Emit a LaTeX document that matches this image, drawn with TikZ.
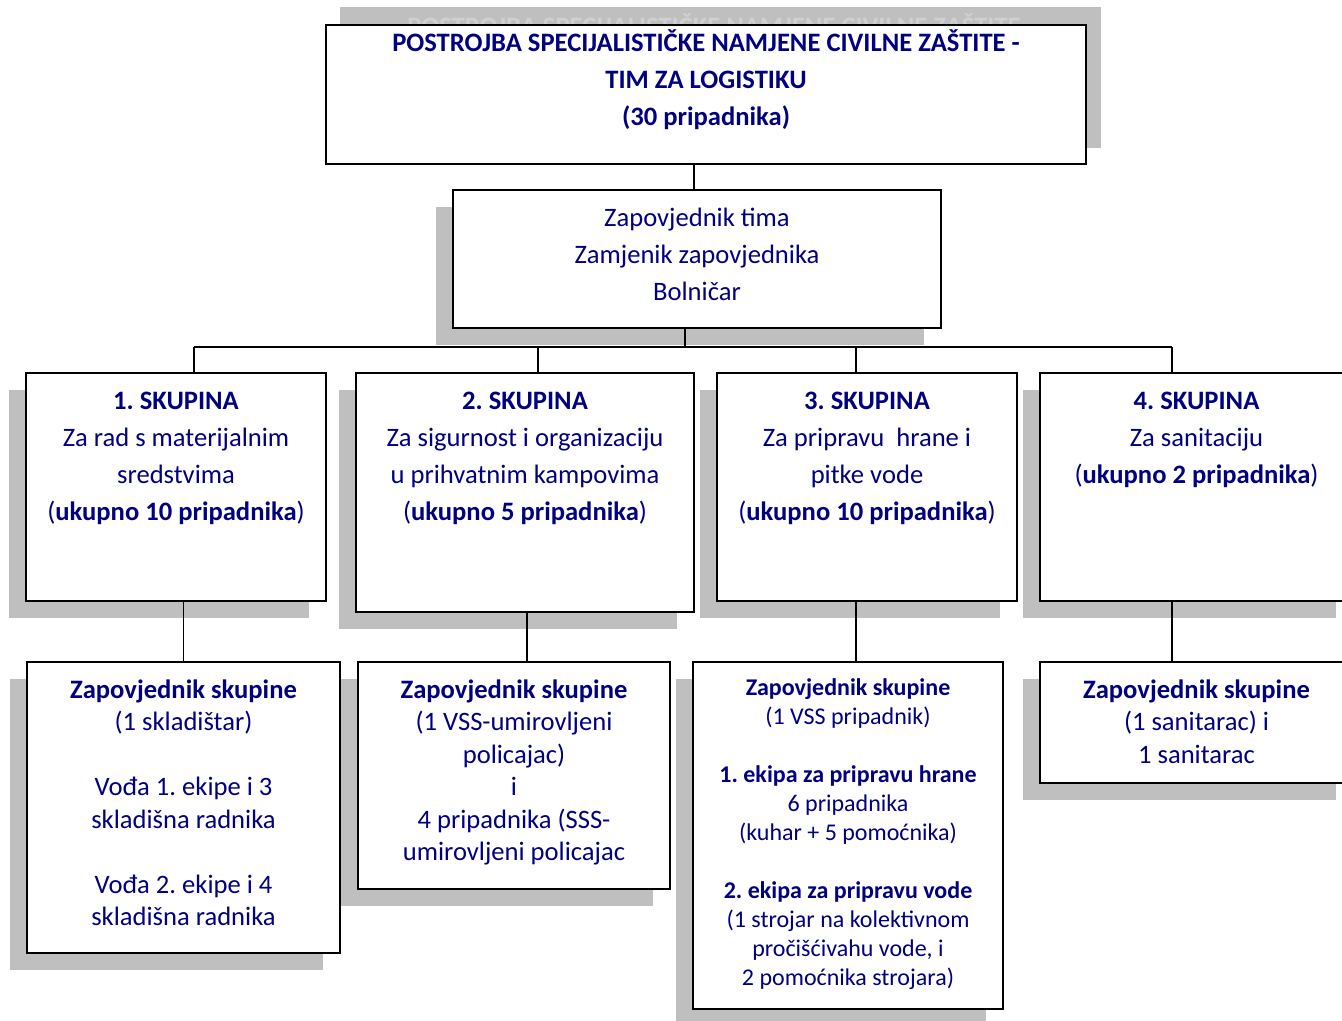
\documentclass[tikz,border=0pt]{standalone}
\usepackage{fontspec}
\setmainfont{Carlito}
\usepackage{tikz}
\usetikzlibrary{shadows}
\definecolor{navytext}{RGB}{0,0,128}
\definecolor{shadowgray}{RGB}{191,191,191}
\definecolor{ghostgray}{RGB}{208,208,208}
\frenchspacing
\newcommand{\boxbody}[4]{\parbox[c][#2][t]{#1}{\centering\vspace*{#3}\strut#4}}
\tikzset{unit/.style={draw, fill=white, line width=1pt, anchor=north west, inner sep=0pt, text=navytext}}
\tikzset{shadowed/.style={drop shadow={shadow xshift=-8.5pt, shadow yshift=-8.5pt, fill=shadowgray, opacity=1}}}
\tikzset{widetext/.style={font=\fontsize{13.3}{18.5}\selectfont}}
\tikzset{listtext/.style={font=\fontsize{13.3}{16.25}\selectfont}}
\tikzset{densetext/.style={font=\fontsize{12}{14.5}\selectfont}}
\tikzset{link/.style={draw, line width=0.9pt}}

\begin{document}
\begin{tikzpicture}[x=0.5pt, y=-0.5pt]
  \useasboundingbox (0,0) rectangle (1342,1021);

  % headline with its shadow and the faded first line
  \fill[shadowgray] (340,7) rectangle (1101,148);
  \node[text=ghostgray, font=\bfseries\fontsize{13.3}{18.5}\selectfont] at (721,25) (ghostline) {POSTROJBA SPECIJALISTIČKE NAMJENE CIVILNE ZAŠTITE -};
  \node[unit, widetext] at (325,24) (title) {\boxbody{380pt}{69.5pt}{0.5pt}{\bfseries POSTROJBA SPECIJALISTIČKE NAMJENE CIVILNE ZAŠTITE -\\TIM ZA LOGISTIKU\\(30 pripadnika)}};

  \node[unit, shadowed, widetext] at (452,189) (cmd) {\boxbody{244pt}{69pt}{5.5pt}{Zapovjednik tima\\Zamjenik zapovjednika\\Bolničar}};

  % the four groups
  \node[unit, shadowed, widetext] at (25,372) (grpA) {\boxbody{150pt}{114pt}{5.3pt}{\textbf{1. SKUPINA}\\Za rad s materijalnim\\sredstvima\\(\textbf{ukupno 10 pripadnika})}};
  \node[unit, shadowed, widetext] at (355,372) (grpB) {\boxbody{169pt}{119.5pt}{5.3pt}{\textbf{2. SKUPINA}\\Za sigurnost i organizaciju\\u prihvatnim kampovima\\(\textbf{ukupno 5 pripadnika})}};
  \node[unit, shadowed, widetext] at (716,372) (grpC) {\boxbody{150pt}{114pt}{5.3pt}{\textbf{3. SKUPINA}\\Za pripravu\ \ hrane i\\pitke vode\\(\textbf{ukupno 10 pripadnika})}};
  \node[unit, shadowed, widetext] at (1039,372) (grpD) {\boxbody{156.5pt}{114pt}{5.3pt}{\textbf{4. SKUPINA}\\Za sanitaciju\\(\textbf{ukupno 2 pripadnika})}};

  % group commanders and teams
  \node[unit, shadowed, listtext] at (26,661) (zapA) {\boxbody{156.5pt}{145.5pt}{6.8pt}{\textbf{Zapovjednik skupine}\\(1 skladištar)\\[\baselineskip]Vođa 1. ekipe i 3\\skladišna radnika\\[\baselineskip]Vođa 2. ekipe i 4\\skladišna radnika}};
  \node[unit, shadowed, listtext] at (357,661) (zapB) {\boxbody{156pt}{113.5pt}{6.8pt}{\textbf{Zapovjednik skupine}\\(1 VSS-umirovljeni\\policajac)\\i\\4 pripadnika (SSS-\\umirovljeni policajac}};
  \node[unit, shadowed, densetext] at (692,661) (zapC) {\boxbody{155pt}{173.5pt}{6.8pt}{\textbf{Zapovjednik skupine}\\(1 VSS pripadnik)\\[\baselineskip]\textbf{1. ekipa za pripravu hrane}\\6 pripadnika\\(kuhar + 5 pomoćnika)\\[\baselineskip]\textbf{2. ekipa za pripravu vode}\\(1 strojar na kolektivnom\\pročišćivahu vode, i\\2 pomoćnika strojara)}};
  \node[unit, shadowed, listtext] at (1039,661) (zapD) {\boxbody{156.5pt}{60.5pt}{6.8pt}{\textbf{Zapovjednik skupine}\\(1 sanitarac) i\\1 sanitarac}};

  % tree lines
  \coordinate (busA) at (194,347);
  \coordinate (busB) at (538,347);
  \coordinate (busC) at (856,347);
  \coordinate (busD) at (1172,347);
  \draw[link] ([xshift=-6pt]title.south) -- ([xshift=-6pt]title.south |- cmd.north);
  \draw[link] ([xshift=-6pt]cmd.south) -- ([xshift=-6pt]cmd.south |- busA);
  \draw[link] (busA) -- (busD);
  \draw[link] (busA) -- (busA |- grpA.north);
  \draw[link] (busB) -- (busB |- grpB.north);
  \draw[link] (busC) -- (busC |- grpC.north);
  \draw[link] (busD) -- (busD |- grpD.north);

  \draw[link] (grpA.south -| zapA.north) -- (zapA.north);
  \draw[link] ([xshift=1pt]grpB.south) -- ([xshift=1pt]grpB.south |- zapB.north);
  \draw[link] (busC |- grpC.south) -- (busC |- zapC.north);
  \draw[link] (busD |- grpD.south) -- (busD |- zapD.north);
\end{tikzpicture}
\end{document}
